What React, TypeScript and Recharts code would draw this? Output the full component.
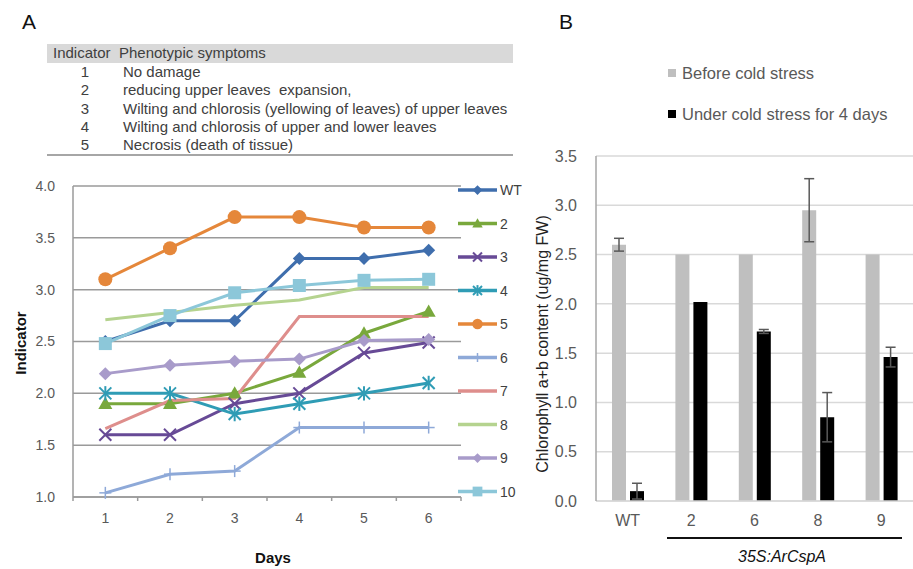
import React from 'react';
import {
  LineChart, Line, XAxis, YAxis, CartesianGrid,
  BarChart, Bar, ErrorBar,
} from 'recharts';

// ── Panel A: indicator per day ──
const days = [1, 2, 3, 4, 5, 6];
const wt = [2.5, 2.7, 2.7, 3.3, 3.3, 3.38];
const line2 = [1.9, 1.9, 2.0, 2.2, 2.58, 2.79];
const line3 = [1.6, 1.6, 1.9, 2.0, 2.39, 2.49];
const line4 = [2.0, 2.0, 1.8, 1.9, 2.0, 2.1];
const line5 = [3.1, 3.4, 3.7, 3.7, 3.6, 3.6];
const line6 = [1.04, 1.22, 1.25, 1.67, 1.67, 1.67];
const line7 = [1.66, 1.93, 1.95, 2.74, 2.74, 2.74];
const line8 = [2.71, 2.78, 2.85, 2.9, 3.02, 3.02];
const line9 = [2.19, 2.27, 2.31, 2.33, 2.51, 2.52];
const line10 = [2.48, 2.75, 2.97, 3.04, 3.09, 3.1];
const indicatorTicks = [1.0, 1.5, 2.0, 2.5, 3.0, 3.5, 4.0];

const tableRows = [
  ['1', 'No damage'],
  ['2', 'reducing upper leaves  expansion,'],
  ['3', 'Wilting and chlorosis (yellowing of leaves) of upper leaves'],
  ['4', 'Wilting and chlorosis of upper and lower leaves'],
  ['5', 'Necrosis (death of tissue)'],
];

// ── Panel B: chlorophyll content ──
const groups = ['WT', '2', '6', '8', '9'];
const before = [2.6, 2.5, 2.5, 2.95, 2.5];
const beforeErr = [0.065, 0, 0, 0.32, 0];
const under = [0.1, 2.02, 1.72, 0.85, 1.46];
const underErr = [0.08, 0, 0.02, 0.25, 0.1];
const chlTicks = [0, 0.5, 1.0, 1.5, 2.0, 2.5, 3.0, 3.5];

type Shape = 'diamond' | 'triangle' | 'x' | 'asterisk' | 'circle' | 'plus' | 'square' | 'none';

const series: { key: string; name: string; values: number[]; color: string; shape: Shape }[] = [
  { key: 'wt', name: 'WT', values: wt, color: '#3F6EAD', shape: 'diamond' },
  { key: 'l2', name: '2', values: line2, color: '#79A83C', shape: 'triangle' },
  { key: 'l3', name: '3', values: line3, color: '#674A96', shape: 'x' },
  { key: 'l4', name: '4', values: line4, color: '#2F9CB5', shape: 'asterisk' },
  { key: 'l5', name: '5', values: line5, color: '#E5873A', shape: 'circle' },
  { key: 'l6', name: '6', values: line6, color: '#8EA9D8', shape: 'plus' },
  { key: 'l7', name: '7', values: line7, color: '#DE8E8C', shape: 'none' },
  { key: 'l8', name: '8', values: line8, color: '#B5D38F', shape: 'none' },
  { key: 'l9', name: '9', values: line9, color: '#A89BCA', shape: 'diamond' },
  { key: 'l10', name: '10', values: line10, color: '#8CC7D9', shape: 'square' },
];

const lineData = days.map((d, i) => {
  const row: Record<string, number> = { day: d };
  series.forEach((s) => { row[s.key] = s.values[i]; });
  return row;
});

const barData = groups.map((g, i) => ({
  name: g,
  before: before[i],
  beforeErr: beforeErr[i],
  under: under[i],
  underErr: underErr[i],
}));

function Marker({ shape, cx, cy, color, s = 1 }: { shape: Shape; cx: number; cy: number; color: string; s?: number }) {
  switch (shape) {
    case 'diamond': {
      const r = 6.5 * s;
      return <polygon points={`${cx},${cy - r} ${cx + r},${cy} ${cx},${cy + r} ${cx - r},${cy}`} fill={color} />;
    }
    case 'triangle': {
      const r = 7 * s;
      return <polygon points={`${cx},${cy - r} ${cx + r},${cy + r * 0.75} ${cx - r},${cy + r * 0.75}`} fill={color} />;
    }
    case 'x': {
      const r = 6 * s;
      return (
        <g stroke={color} strokeWidth={2}>
          <line x1={cx - r} y1={cy - r} x2={cx + r} y2={cy + r} />
          <line x1={cx - r} y1={cy + r} x2={cx + r} y2={cy - r} />
        </g>
      );
    }
    case 'asterisk': {
      const r = 6 * s;
      return (
        <g stroke={color} strokeWidth={2}>
          <line x1={cx - r} y1={cy - r} x2={cx + r} y2={cy + r} />
          <line x1={cx - r} y1={cy + r} x2={cx + r} y2={cy - r} />
          <line x1={cx} y1={cy - r * 1.2} x2={cx} y2={cy + r * 1.2} />
        </g>
      );
    }
    case 'circle':
      return <circle cx={cx} cy={cy} r={7 * s} fill={color} />;
    case 'plus': {
      const r = 6 * s;
      return (
        <g stroke={color} strokeWidth={1.5}>
          <line x1={cx - r} y1={cy} x2={cx + r} y2={cy} />
          <line x1={cx} y1={cy - r} x2={cx} y2={cy + r} />
        </g>
      );
    }
    case 'square': {
      const r = 6.5 * s;
      return <rect x={cx - r} y={cy - r} width={r * 2} height={r * 2} fill={color} />;
    }
    default:
      return null;
  }
}

const makeDot = (shape: Shape, color: string) => (props: any) => (
  <g key={`${shape}-${props.index}`}>
    <Marker shape={shape} cx={props.cx} cy={props.cy} color={color} />
  </g>
);

// integer days get a label, half days get a small tick mark (Excel style)
const DayTick = (props: any) => {
  const { x, y, payload } = props;
  const v = payload.value;
  if (Number.isInteger(v)) {
    return (
      <text x={x} y={y + 26} textAnchor="middle" fontSize={14} fill="#595959">{v}</text>
    );
  }
  return <line x1={x} x2={x} y1={y} y2={y + 4} stroke="#9A9A9A" strokeWidth={1.5} />;
};

const FONT = '"Liberation Sans", Arial, sans-serif';

export default function App() {
  return (
    <div style={{ position: 'absolute', left: 0, top: 0, width: 913, height: 569, background: '#fff', fontFamily: FONT, color: '#404040' }}>
      {/* panel labels */}
      <div style={{ position: 'absolute', left: 22, top: 10, fontSize: 21, color: '#111' }}>A</div>
      <div style={{ position: 'absolute', left: 559, top: 10, fontSize: 21, color: '#111' }}>B</div>

      {/* ── indicator table ── */}
      <div style={{ position: 'absolute', left: 47, top: 44, width: 466, fontSize: 15, lineHeight: '18.3px' }}>
        <div style={{ display: 'flex', background: '#D9D9D9', height: 19, alignItems: 'center' }}>
          <span style={{ marginLeft: 6, width: 66 }}>Indicator</span>
          <span>Phenotypic symptoms</span>
        </div>
        {tableRows.map(([n, t]) => (
          <div key={n} style={{ display: 'flex' }}>
            <span style={{ width: 76, textAlign: 'center' }}>{n}</span>
            <span style={{ whiteSpace: 'pre' }}>{t}</span>
          </div>
        ))}
        <div style={{ marginTop: 0, height: 2, background: '#A6A6A6' }} />
      </div>

      {/* ── line chart ── */}
      <div style={{ position: 'absolute', left: 0, top: 170 }}>
        <LineChart width={530} height={399} data={lineData} margin={{ top: 16, right: 69, bottom: 42, left: 33 }}>
          <CartesianGrid vertical={false} stroke="#9A9A9A" strokeWidth={1.5} />
          <XAxis
            dataKey="day"
            type="number"
            domain={[0.5, 6.5]}
            ticks={[0.5, 1, 1.5, 2, 2.5, 3, 3.5, 4, 4.5, 5, 5.5, 6, 6.5]}
            interval={0}
            tick={<DayTick />}
            tickLine={false}
            tickSize={0}
            tickMargin={0}
            height={30}
            axisLine={{ stroke: '#9A9A9A', strokeWidth: 1.5 }}
          />
          <YAxis
            domain={[1, 4]}
            ticks={indicatorTicks}
            tickFormatter={(v: number) => v.toFixed(1)}
            width={40}
            tickLine={false}
            tickSize={0}
            tickMargin={18}
            axisLine={{ stroke: '#9A9A9A', strokeWidth: 1.5 }}
            tick={{ fontSize: 14, fill: '#595959' }}
          />
          {series.map((s) => (
            <Line
              key={s.key}
              dataKey={s.key}
              name={s.name}
              stroke={s.color}
              strokeWidth={3}
              dot={s.shape === 'none' ? false : makeDot(s.shape, s.color)}
              activeDot={false}
              isAnimationActive={false}
            />
          ))}
        </LineChart>
      </div>
      <div style={{ position: 'absolute', left: 4, top: 343, transform: 'translate(-50%, -50%) rotate(-90deg)', transformOrigin: 'center', marginLeft: 16, fontSize: 15, fontWeight: 'bold', color: '#111', whiteSpace: 'nowrap' }}>
        Indicator
      </div>
      <div style={{ position: 'absolute', left: 273, top: 557, transform: 'translate(-50%, -50%)', fontSize: 15, fontWeight: 'bold', color: '#111' }}>
        Days
      </div>

      {/* line legend */}
      <svg style={{ position: 'absolute', left: 0, top: 0 }} width={913} height={569} pointerEvents="none">
        {series.map((s, i) => {
          const cy = 190 + i * 33.5;
          return (
            <g key={s.key}>
              <line x1={458} x2={497} y1={cy} y2={cy} stroke={s.color} strokeWidth={3.5} />
              <Marker shape={s.shape} cx={477.5} cy={cy} color={s.color} s={0.75} />
              <text x={500} y={cy} dominantBaseline="central" fontSize={14} fill="#404040" fontFamily={FONT}>{s.name}</text>
            </g>
          );
        })}
      </svg>

      {/* ── bar chart ── */}
      <div style={{ position: 'absolute', left: 530, top: 140 }}>
        <BarChart width={383} height={429} data={barData} margin={{ top: 16, right: 0, bottom: 38, left: 20 }} barSize={14} barGap={4}>
          <CartesianGrid vertical={false} stroke="#D9D9D9" strokeWidth={1.5} />
          <XAxis
            dataKey="name"
            height={30}
            tickLine={false}
            tickMargin={8}
            axisLine={{ stroke: '#D9D9D9', strokeWidth: 1.5 }}
            tick={{ fontSize: 16, fill: '#595959' }}
          />
          <YAxis
            domain={[0, 3.5]}
            ticks={chlTicks}
            tickFormatter={(v: number) => v.toFixed(1)}
            width={46}
            tickLine={false}
            tickSize={0}
            tickMargin={19}
            axisLine={{ stroke: '#A6A6A6', strokeWidth: 1.5 }}
            tick={{ fontSize: 16, fill: '#595959' }}
          />
          <Bar dataKey="before" fill="#BFBFBF" isAnimationActive={false}>
            <ErrorBar dataKey="beforeErr" width={5} stroke="#595959" strokeWidth={1.5} />
          </Bar>
          <Bar dataKey="under" fill="#000000" isAnimationActive={false}>
            <ErrorBar dataKey="underErr" width={5} stroke="#595959" strokeWidth={1.5} />
          </Bar>
        </BarChart>
      </div>
      <div style={{ position: 'absolute', left: 543, top: 344, transform: 'translate(-50%, -50%) rotate(-90deg)', fontSize: 16, color: '#222', whiteSpace: 'nowrap' }}>
        Chlorophyll a+b content (ug/mg FW)
      </div>
      <div style={{ position: 'absolute', left: 667, top: 537, width: 235, height: 1.5, background: '#111' }} />
      <div style={{ position: 'absolute', left: 782, top: 557, transform: 'translate(-50%, -50%)', fontSize: 16, fontStyle: 'italic', color: '#111' }}>
        35S:ArCspA
      </div>

      {/* bar legend */}
      <div style={{ position: 'absolute', left: 668, top: 64, fontSize: 16.5, color: '#595959' }}>
        <div style={{ display: 'flex', alignItems: 'center', height: 18 }}>
          <span style={{ width: 8, height: 8, background: '#BFBFBF', marginRight: 6 }} />
          Before cold stress
        </div>
        <div style={{ display: 'flex', alignItems: 'center', height: 18, marginTop: 23 }}>
          <span style={{ width: 8, height: 8, background: '#000', marginRight: 6 }} />
          Under cold stress for 4 days
        </div>
      </div>
    </div>
  );
}
